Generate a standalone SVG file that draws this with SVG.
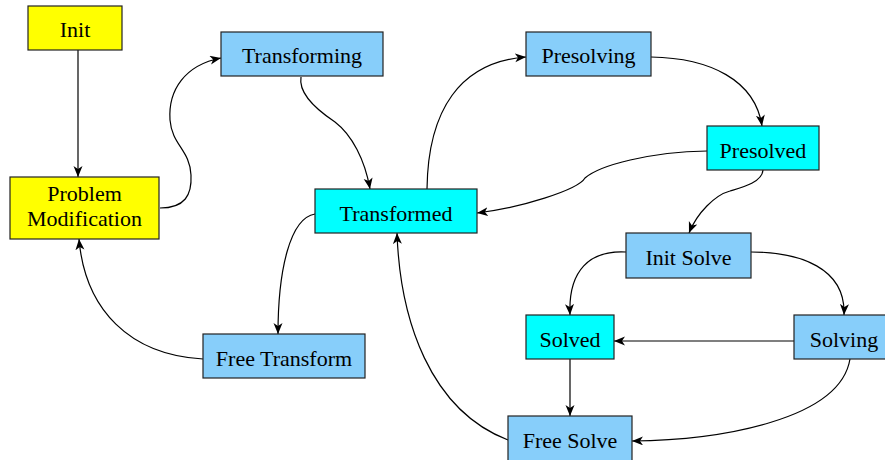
<svg xmlns="http://www.w3.org/2000/svg" width="885" height="460" viewBox="0 0 885 460">
  <style>
    .node rect { stroke: #222; stroke-width: 1.2; }
    .start rect { fill: #ffff00; }
    .busy rect { fill: #87cefa; }
    .done rect { fill: #00ffff; }
    .node text { font-family: "Liberation Serif", "Times New Roman", serif; font-size: 22px; fill: #000; text-anchor: middle; }
    .edges path { fill: none; stroke: #000; stroke-width: 1.2; marker-end: url(#arrow); }
  </style>
  <defs>
    <marker id="arrow" markerWidth="12" markerHeight="10" refX="11" refY="4.5" orient="auto" markerUnits="userSpaceOnUse">
      <path d="M0,0 L11,4.5 L0,9 L3,4.5 Z" fill="#000"/>
    </marker>
  </defs>

  <g class="edges">
    <path d="M78,50 L78,177"/>
    <path d="M160,208 C185,208 192,195 191,175 C190,150 172,145 170,120 C168,90 185,65 221,58"/>
    <path d="M301,77 C298,95 320,112 335,122 C352,135 365,160 370,189"/>
    <path d="M427,189 C428,110 460,62 526,57"/>
    <path d="M651,57 C710,58 755,80 762,126"/>
    <path d="M707,151 C650,152 600,165 585,178 C578,190 520,208 477,213"/>
    <path d="M763,170 C762,183 740,188 730,191 C715,195 697,213 689,233"/>
    <path d="M626,252 C590,250 568,270 570,315"/>
    <path d="M751,252 C800,252 846,268 844,315"/>
    <path d="M794,341 L614,341"/>
    <path d="M570,359 L570,416"/>
    <path d="M850,359 C840,420 720,440 632,441"/>
    <path d="M508,440 C430,410 400,320 397,233"/>
    <path d="M315,214 C290,218 278,270 278,334"/>
    <path d="M203,359 C130,355 85,310 79,239"/>
  </g>

  <g id="init" class="node start">
    <rect x="28" y="6" width="94" height="44"/>
    <text x="75" y="37">Init</text>
  </g>
  <g id="problem-modification" class="node start">
    <rect x="10" y="177" width="149" height="62"/>
    <text x="84.5" y="201">Problem</text>
    <text x="84.5" y="226">Modification</text>
  </g>
  <g id="transforming" class="node busy">
    <rect x="221" y="32" width="162" height="44"/>
    <text x="302" y="63">Transforming</text>
  </g>
  <g id="transformed" class="node done">
    <rect x="315" y="189" width="162" height="44"/>
    <text x="396" y="221">Transformed</text>
  </g>
  <g id="free-transform" class="node busy">
    <rect x="203" y="334" width="162" height="44"/>
    <text x="284" y="366">Free Transform</text>
  </g>
  <g id="presolving" class="node busy">
    <rect x="526" y="32" width="125" height="44"/>
    <text x="588.5" y="63">Presolving</text>
  </g>
  <g id="presolved" class="node done">
    <rect x="707" y="126" width="112" height="44"/>
    <text x="763" y="158">Presolved</text>
  </g>
  <g id="init-solve" class="node busy">
    <rect x="626" y="233" width="125" height="45"/>
    <text x="688.5" y="265">Init Solve</text>
  </g>
  <g id="solved" class="node done">
    <rect x="526" y="315" width="88" height="44"/>
    <text x="570" y="347">Solved</text>
  </g>
  <g id="solving" class="node busy">
    <rect x="794" y="315" width="100" height="44"/>
    <text x="844" y="347">Solving</text>
  </g>
  <g id="free-solve" class="node busy">
    <rect x="508" y="416" width="124" height="50"/>
    <text x="570" y="448">Free Solve</text>
  </g>
</svg>
